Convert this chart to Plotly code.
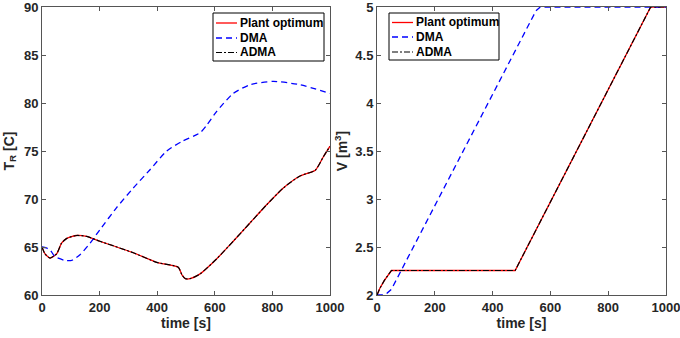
import plotly.graph_objects as go

# ---- data ----
t_plant_T = [0, 10, 28, 51, 68, 86, 120, 155, 201, 317, 398, 473, 486, 498, 514, 549, 606, 664, 722, 780, 838, 896, 949, 977, 1000]
T_plant = [65.0, 64.3, 63.85, 64.3, 65.4, 65.9, 66.2, 66.1, 65.6, 64.4, 63.4, 62.9, 62.1, 61.7, 61.7, 62.2, 63.75, 65.6, 67.5, 69.4, 71.15, 72.4, 73.0, 74.4, 75.5]

t_dma_T = [0, 15, 28, 45, 80, 103, 132, 167, 201, 259, 317, 375, 433, 486, 549, 572, 606, 664, 722, 803, 896, 1000]
T_dma = [65.0, 64.9, 64.7, 64.0, 63.6, 63.6, 64.2, 65.4, 66.8, 69.1, 71.15, 73.05, 75.0, 76.0, 76.9, 77.7, 79.1, 81.0, 81.9, 82.25, 81.9, 81.0]

t_plant_V = [0, 10, 25, 50, 478, 947, 1000]
V_plant = [2.0, 2.07, 2.15, 2.255, 2.255, 5.0, 5.0]

t_dma_V = [0, 20, 35, 50, 550, 565, 1000]
V_dma = [2.0, 2.0, 2.02, 2.06, 4.96, 5.0, 5.0]

names = ["Plant optimum", "DMA", "ADMA"]
x_ticks = [0, 200, 400, 600, 800, 1000]
T_ticks = [60, 65, 70, 75, 80, 85, 90]
V_ticks = [2, 2.5, 3, 3.5, 4, 4.5, 5]
V_ticklabels = ["2", "2.5", "3", "3.5", "4", "4.5", "5"]

W, H = 680, 338
FONT = "Liberation Sans"
TXT = "#262626"
AX = "#555555"

styles = [
    dict(color="#ff0000", width=1.3),
    dict(color="#0000ff", width=1.3, dash="6px,4px"),
    dict(color="#000000", width=1.2, dash="6px,2px,2px,2px"),
]

fig = go.Figure()
# left panel
T_sets = [(t_plant_T, T_plant), (t_dma_T, T_dma), (t_plant_T, T_plant)]
for (tx, ty), nm, st in zip(T_sets, names, styles):
    fig.add_trace(go.Scatter(x=tx, y=ty, mode="lines", name=nm,
                             line=dict(**st, shape="spline", smoothing=0.6),
                             xaxis="x", yaxis="y", showlegend=False))
# right panel
V_sets = [(t_plant_V, V_plant), (t_dma_V, V_dma), (t_plant_V, V_plant)]
for (tx, ty), nm, st in zip(V_sets, names, styles):
    fig.add_trace(go.Scatter(x=tx, y=ty, mode="lines", name=nm, line=st,
                             xaxis="x2", yaxis="y2", showlegend=False))

tickfont = dict(family=FONT, size=13, color=TXT, weight="bold")
titlefont = dict(family=FONT, size=14, color=TXT, weight="bold")
axis_common = dict(
    showgrid=False, zeroline=False, showline=True, linecolor=AX, linewidth=1,
    mirror="ticks", ticks="inside", ticklen=4, tickcolor=AX,
    tickfont=tickfont, automargin=False, ticklabeloverflow="allow",
)

ydom = [43 / H, 331 / H]
fig.update_layout(
    width=W, height=H,
    margin=dict(l=0, r=0, t=0, b=0),
    paper_bgcolor="white", plot_bgcolor="white",
    font=dict(family=FONT, color=TXT, size=12),
    showlegend=False,
    xaxis=dict(domain=[42 / W, 330 / W], range=[0, 1000], tickvals=x_ticks, anchor="y",
               title=dict(text="<b>time [s]</b>", font=titlefont, standoff=4), **axis_common),
    yaxis=dict(domain=ydom, range=[60, 90], tickvals=T_ticks, anchor="x",
               title=dict(text="<b>T<sub>R</sub> [C]</b>", font=titlefont, standoff=6), **axis_common),
    xaxis2=dict(domain=[377 / W, 666 / W], range=[0, 1000], tickvals=x_ticks, anchor="y2",
                title=dict(text="<b>time [s]</b>", font=titlefont, standoff=4), **axis_common),
    yaxis2=dict(domain=ydom, range=[2, 5], tickvals=V_ticks, ticktext=V_ticklabels, anchor="x2",
                title=dict(text="<b>V [m<sup>3</sup>]</b>", font=titlefont, standoff=4), **axis_common),
)


# ---- boxed legends (MATLAB style, compact rows) ----
def add_legend(left, top, width, height, row_ys):
    px = lambda x: x / W
    py = lambda y: 1 - y / H
    fig.add_shape(type="rect", xref="paper", yref="paper",
                  x0=px(left), x1=px(left + width), y0=py(top), y1=py(top + height),
                  line=dict(color="#000000", width=1), fillcolor="white", layer="above")
    for nm, st, ry in zip(names, styles, row_ys):
        fig.add_shape(type="line", xref="paper", yref="paper",
                      x0=px(left + 3), x1=px(left + 24), y0=py(top + ry), y1=py(top + ry),
                      line=st, layer="above")
        fig.add_annotation(xref="paper", yref="paper", x=px(left + 25), y=py(top + ry),
                           xanchor="left", yanchor="middle", showarrow=False,
                           text="<b>" + nm + "</b>",
                           font=dict(family=FONT, size=12, color="#000000"))


add_legend(213, 13, 111, 48, [10, 25, 39.5])
add_legend(389, 13, 110, 47, [9.5, 24, 39])

fig.write_html("out.html")
